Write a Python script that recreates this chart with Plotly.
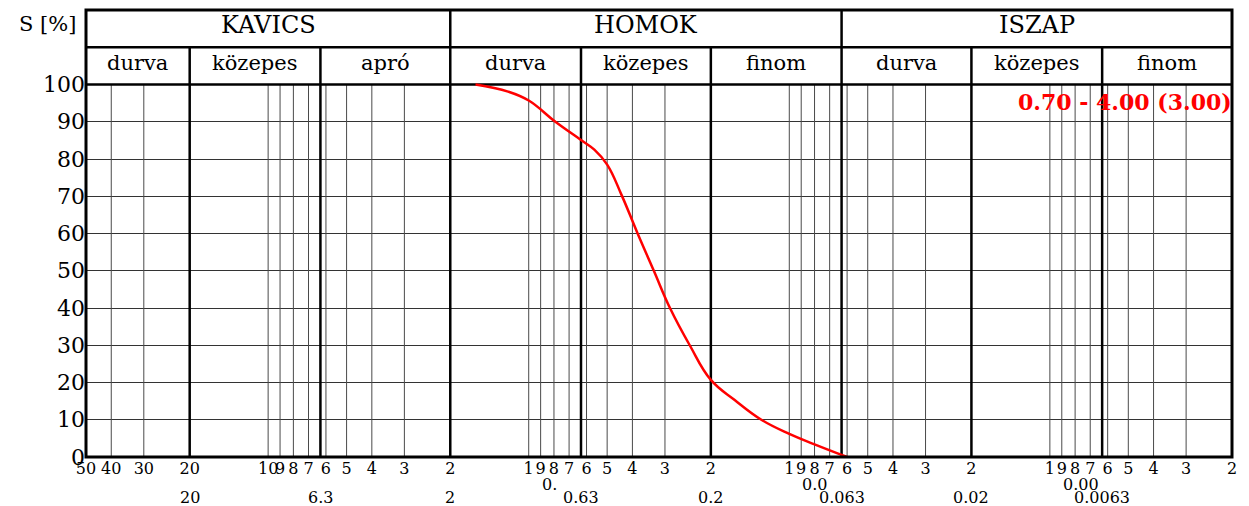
import math
import plotly.graph_objects as go

# ---------------- data ----------------
grain_d = [1.6, 1.2, 1.0, 0.79, 0.63, 0.56, 0.5, 0.44, 0.382, 0.331, 0.287, 0.241, 0.2, 0.162, 0.128, 0.1, 0.08, 0.06]
passing = [100, 98.1, 95.7, 90, 85.1, 82.5, 78.5, 70.3, 60, 50, 40, 30, 20.7, 15.3, 10, 6.2, 3.4, 0]

x_left, x_right = 50, 0.002
main_names = ["KAVICS", "HOMOK", "ISZAP"]
main_edges = [50, 2, 0.063, 0.002]
sub_names = ["durva", "közepes", "apró", "durva", "közepes", "finom", "durva", "közepes", "finom"]
sub_edges = [50, 20, 6.3, 2, 0.63, 0.2, 0.063, 0.02, 0.0063, 0.002]
fraction_bounds = [20, 6.3, 2, 0.63, 0.2, 0.063, 0.02, 0.0063]
main_bounds = [2, 0.063]
bound_labels = ["20", "6.3", "2", "0.63", "0.2", "0.063", "0.02", "0.0063"]
minor_lines = [40, 30, 10, 9, 8, 7, 6, 5, 4, 3,
               1, 0.9, 0.8, 0.7, 0.6, 0.5, 0.4, 0.3,
               0.1, 0.09, 0.08, 0.07, 0.06, 0.05, 0.04, 0.03,
               0.01, 0.009, 0.008, 0.007, 0.006, 0.005, 0.004, 0.003]
tick_vals = [50, 40, 30, 20, 10, 9, 8, 7, 6, 5, 4, 3, 2,
             1, 0.9, 0.8, 0.7, 0.6, 0.5, 0.4, 0.3, 0.2,
             0.1, 0.09, 0.08, 0.07, 0.06, 0.05, 0.04, 0.03, 0.02,
             0.01, 0.009, 0.008, 0.007, 0.006, 0.005, 0.004, 0.003, 0.002]
tick_text = ["50", "40", "30", "20", "10", "9", "8", "7", "6", "5", "4", "3", "2",
             "1", "9", "8", "7", "6", "5", "4", "3", "2",
             "1", "9", "8", "7", "6", "5", "4", "3", "2",
             "1", "9", "8", "7", "6", "5", "4", "3", "2"]
partial_labels = ["0.", "0.0", "0.00"]
partial_pos = [1, 0.1, 0.01]
y_ticks = [0, 10, 20, 30, 40, 50, 60, 70, 80, 90, 100]
y_label = "S [%]"
sample_label = "0.70 - 4.00 (3.00)"

FONT = "DejaVu Serif"

fig = go.Figure()

def segs(vals, y0, y1_func):
    xs, ys = [], []
    for v in vals:
        xs += [v, v, None]
        ys += [y0, y1_func(v), None]
    return xs, ys

xs, ys = segs(minor_lines, 0, lambda v: 100)
fig.add_trace(go.Scatter(x=xs, y=ys, mode="lines", line=dict(color="#4a4a4a", width=1),
                         hoverinfo="skip", showlegend=False))
xs, ys = segs(fraction_bounds, 0, lambda v: 120 if v in main_bounds else 110)
fig.add_trace(go.Scatter(x=xs, y=ys, mode="lines", line=dict(color="black", width=2.5),
                         hoverinfo="skip", showlegend=False))
fig.add_trace(go.Scatter(x=[x_left, x_right, None, x_left, x_right], y=[100, 100, None, 110, 110],
                         mode="lines", line=dict(color="black", width=2.5),
                         hoverinfo="skip", showlegend=False))
fig.add_trace(go.Scatter(x=grain_d, y=passing, mode="lines",
                         line=dict(color="#ff0000", width=2.5, shape="spline", smoothing=1.2),
                         showlegend=False))

fig.add_shape(type="rect", xref="paper", yref="paper", x0=0, x1=1, y0=0, y1=1,
              line=dict(color="black", width=3), layer="above")

ann = []
lg = math.log10
for i, name in enumerate(main_names):
    xc = (lg(main_edges[i]) + lg(main_edges[i + 1])) / 2
    ann.append(dict(x=xc, y=115, xref="x", yref="y", text=name, showarrow=False, yshift=4,
                    font=dict(family=FONT, size=24, color="black"), yanchor="middle"))
for i, name in enumerate(sub_names):
    xc = (lg(sub_edges[i]) + lg(sub_edges[i + 1])) / 2
    ann.append(dict(x=xc, y=105, xref="x", yref="y", text=name, showarrow=False, yshift=3,
                    font=dict(family=FONT, size=21, color="black"), yanchor="middle"))
ann.append(dict(x=0, y=115, xref="paper", yref="y", text=y_label, showarrow=False,
                xanchor="right", xshift=-8, yshift=5, font=dict(family=FONT, size=21, color="black"),
                yanchor="middle"))
for v, t in zip(fraction_bounds, bound_labels):
    ann.append(dict(x=lg(v), y=0, xref="x", yref="paper", text=t, showarrow=False,
                    yanchor="middle", yshift=-40, font=dict(family=FONT, size=16, color="black")))
for v, t in zip(partial_pos, partial_labels):
    ann.append(dict(x=lg(v), y=0, xref="x", yref="paper", text=t, showarrow=False,
                    xanchor="left", xshift=11, yanchor="middle", yshift=-27,
                    font=dict(family=FONT, size=16, color="black")))
ann.append(dict(x=1, y=95.2, xref="paper", yref="y", text="<b>" + sample_label + "</b>",
                showarrow=False, xanchor="right", yanchor="middle", xshift=2,
                font=dict(family=FONT, size=22, color="#ff0000")))

fig.update_layout(
    width=1249, height=506,
    margin=dict(l=86, r=17, t=10, b=49),
    paper_bgcolor="white", plot_bgcolor="white",
    annotations=ann,
    xaxis=dict(type="log", range=[lg(x_left), lg(x_right)], tickmode="array",
               tickvals=tick_vals, ticktext=tick_text, showgrid=False, zeroline=False,
               showline=False, ticks="", tickangle=0,
               tickfont=dict(family=FONT, size=16, color="black")),
    yaxis=dict(range=[0, 120], tickmode="array", tickvals=y_ticks, showgrid=True,
               gridcolor="#333", gridwidth=1, zeroline=False, showline=False, ticks="",
               tickfont=dict(family=FONT, size=22, color="black")),
)

fig.write_html("out.html")
